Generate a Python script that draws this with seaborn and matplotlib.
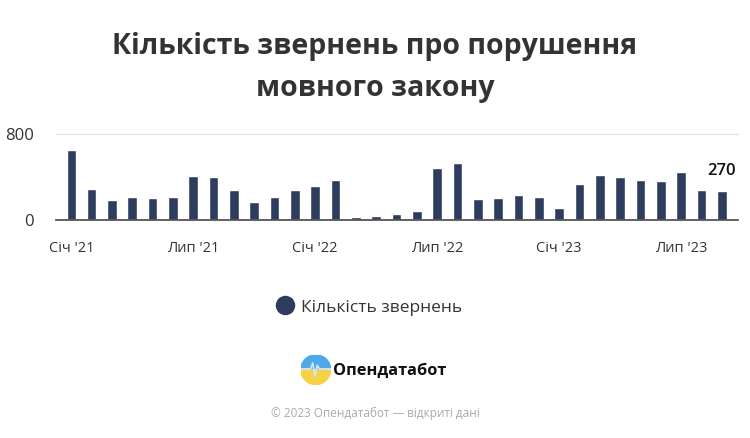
import numpy as np
import pandas as pd
import matplotlib
matplotlib.use("Agg")
import matplotlib.pyplot as plt
import seaborn as sns
from matplotlib.lines import Line2D
from matplotlib.patches import Wedge, Circle

# monthly counts, Jan 2021 .. Sep 2023
months = ["Січ '21", "Лют '21", "Бер '21", "Кві '21", "Тра '21", "Чер '21",
          "Лип '21", "Сер '21", "Вер '21", "Жов '21", "Лис '21", "Гру '21",
          "Січ '22", "Лют '22", "Бер '22", "Кві '22", "Тра '22", "Чер '22",
          "Лип '22", "Сер '22", "Вер '22", "Жов '22", "Лис '22", "Гру '22",
          "Січ '23", "Лют '23", "Бер '23", "Кві '23", "Тра '23", "Чер '23",
          "Лип '23", "Сер '23", "Вер '23"]
counts = [650, 288, 181, 217, 204, 217, 411, 398, 279, 168, 217, 279,
          314, 375, 23, 32, 58, 84, 483, 530, 191, 204, 230, 217,
          107, 337, 421, 398, 375, 363, 447, 279, 270]
tick_idx = [0, 6, 12, 18, 24, 30]
series_name = "Кількість звернень"

df = pd.DataFrame({"month": months, "count": counts})

sns.set_theme(style="white")
plt.rcParams["font.family"] = ["Open Sans", "DejaVu Sans"]

bar_color = "#2e3d5e"
fig = plt.figure(figsize=(7.5, 4.38), dpi=100)
ax = fig.add_axes([0.075, 0.498, 0.909, 0.196])

sns.barplot(data=df, x="month", y="count", color=bar_color, width=0.47,
            saturation=1, ax=ax)

ax.set_xlim(-0.74, 32.8)
ax.set_ylim(0, 800)
ax.set_yticks([0, 800])
ax.set_yticklabels(["0", "800"], fontsize=12, color="#333333")
ax.set_xticks(tick_idx)
ax.set_xticklabels([months[i] for i in tick_idx], fontsize=10.5, color="#333333")
ax.tick_params(axis="both", length=0)
ax.tick_params(axis="x", pad=15)
ax.tick_params(axis="y", pad=16)
ax.set_xlabel("")
ax.set_ylabel("")
for s in ["top", "right", "left"]:
    ax.spines[s].set_visible(False)
ax.spines["bottom"].set_color("#555555")
ax.spines["bottom"].set_linewidth(1.3)
ax.axhline(800, color="#e6e6e6", lw=1, zorder=0, clip_on=False)

# last value label
ax.annotate(str(counts[-1]), xy=(len(counts) - 1, counts[-1]), xytext=(0, 14),
            textcoords="offset points", ha="center", va="center",
            fontsize=12, fontweight="semibold", color="#111111")

fig.text(0.5, 0.846, "Кількість звернень про порушення\nмовного закону",
         ha="center", va="center", fontsize=20.5, fontweight="bold",
         color="#333333", linespacing=1.6)

handle = Line2D([], [], marker="o", color="none", markerfacecolor=bar_color,
                markeredgecolor=bar_color, markersize=13)
fig.legend([handle], [series_name], loc="center", bbox_to_anchor=(0.489, 0.298),
           frameon=False, fontsize=12.5, handletextpad=0.15, handlelength=1.6,
           labelcolor="#333333")

# logo
lax = fig.add_axes([0.401, 0.122, 0.04, 0.068])
lax.set_xlim(-1, 1)
lax.set_ylim(-1, 1)
lax.set_aspect("equal")
lax.axis("off")
lax.add_patch(Wedge((0, 0), 1, 0, 180, color="#4fa8ea"))
lax.add_patch(Wedge((0, 0), 1, 180, 360, color="#f6d147"))
lax.plot([-1, -0.35, -0.2, -0.05, 0.1, 0.25, 1],
         [0.05, 0.05, 0.45, -0.45, 0.3, 0.05, 0.05], color="#cfe8ff", lw=1.2)
fig.text(0.444, 0.153, "Опендатабот", ha="left", va="center", fontsize=11.8,
         fontweight="bold", color="#111111")

fig.text(0.5, 0.057, "© 2023 Опендатабот — відкриті дані", ha="center",
         va="center", fontsize=8.5, color="#aaaaaa")

fig.savefig("out.png", dpi=100, facecolor="white")
